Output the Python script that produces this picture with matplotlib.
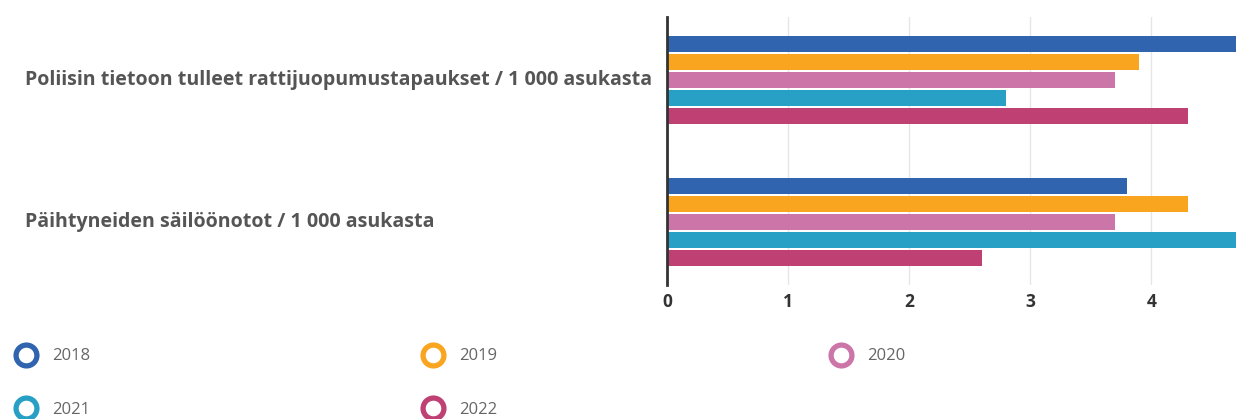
import matplotlib
matplotlib.use("Agg")
import matplotlib.pyplot as plt
from matplotlib.lines import Line2D
from matplotlib.transforms import blended_transform_factory
import numpy as np

categories = ["Poliisin tietoon tulleet rattijuopumustapaukset / 1 000 asukasta",
              "Päihtyneiden säilöönotot / 1 000 asukasta"]
years = ["2018", "2019", "2020", "2021", "2022"]
values = {
    "2018": [4.8, 3.8],
    "2019": [3.9, 4.3],
    "2020": [3.7, 3.7],
    "2021": [2.8, 4.8],
    "2022": [4.3, 2.6],
}
colors = ["#3064ae", "#f9a51f", "#cb75a9", "#28a0c5", "#bf4073"]
xticks = [0, 1, 2, 3, 4]

plt.rcParams['font.family'] = ['Open Sans', 'DejaVu Sans']

W, H = 1237, 419
fig = plt.figure(figsize=(W/100, H/100), dpi=100)
ax = fig.add_axes([667/W, 1-285/H, (1236-667)/W, (285-17)/H])

step = 0.127
bh = 0.118
for i, (yr, c) in enumerate(zip(years, colors)):
    ypos = np.arange(len(categories)) + (i - 2) * step
    ax.barh(ypos, values[yr], height=bh, color=c, zorder=3)

ax.set_xlim(0, 4.7)
ax.set_ylim(1.444, -0.444)
ax.set_xticks(xticks)
ax.set_xticklabels([str(t) for t in xticks], fontsize=12.5, fontweight='bold', color='#333333')
ax.tick_params(axis='x', length=0, pad=6)
ax.set_yticks([])
ax.grid(axis='x', color='#e6e6e6', linewidth=1, zorder=0)
for s in ['top', 'right', 'bottom']:
    ax.spines[s].set_visible(False)
ax.spines['left'].set_color('#333333')
ax.spines['left'].set_linewidth(2)
ax.spines['left'].set_zorder(4)

tr = blended_transform_factory(fig.transFigure, ax.transData)
for j, cat in enumerate(categories):
    ax.text(25/W, j, cat, transform=tr, ha='left', va='center', fontsize=14.1,
            fontweight='bold', color='#555555')

# legend
leg_pos = [(26, 355), (433, 355), (841, 355), (26, 408), (433, 408)]
for (x, y), yr, c in zip(leg_pos, years, colors):
    fig.add_artist(Line2D([x/W], [1-y/H], transform=fig.transFigure, marker='o',
                          markersize=15, markerfacecolor='white', markeredgecolor=c,
                          markeredgewidth=3.8, linestyle='none'))
    fig.text((x+26)/W, 1-(y+1.5)/H, yr, ha='left', va='center', fontsize=12, color='#666666')

fig.savefig("out.png", dpi=100)
